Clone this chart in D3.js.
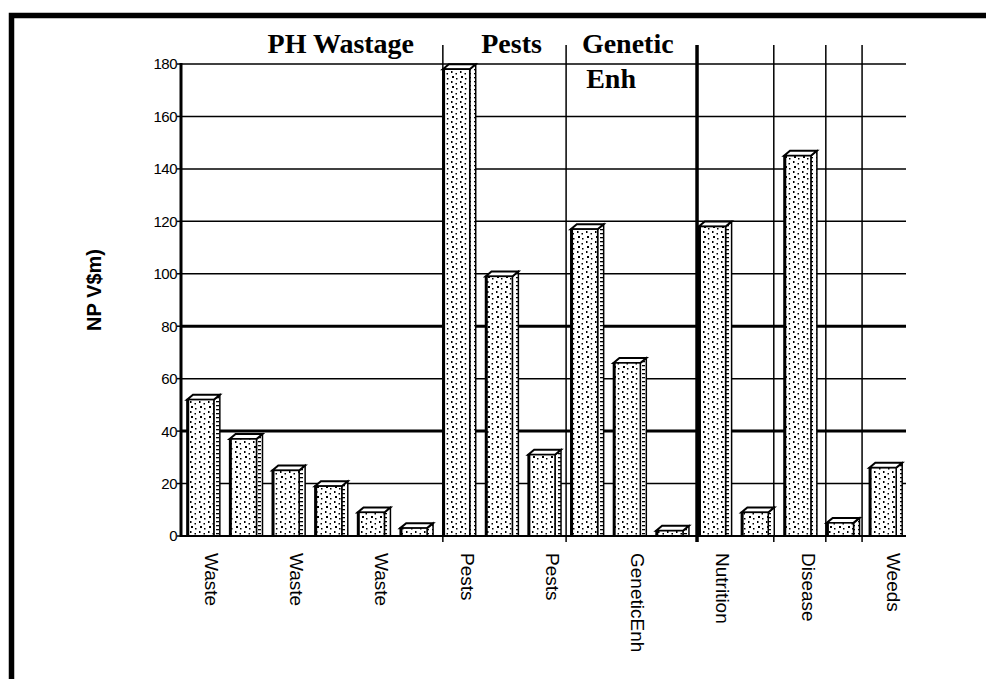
<!DOCTYPE html>
<html>
<head>
<meta charset="utf-8">
<script src="https://cdnjs.cloudflare.com/ajax/libs/d3/7.8.5/d3.min.js"></script>
<style>
  body { margin: 0; background: #fff; }
  svg { display: block; }
</style>
</head>
<body>
<svg width="986" height="679"></svg>
<script>
/// Data ///
var values = [52, 37, 25, 19, 9, 3, 178, 99, 31, 117, 66, 2, 118, 9, 145, 5, 26];
var labelSlots = [0, 2, 4, 6, 8, 10, 12, 14, 16];
var labels = ["Waste", "Waste", "Waste", "Pests", "Pests", "GeneticEnh", "Nutrition", "Disease", "Weeds"];
var yTicks = [0, 20, 40, 60, 80, 100, 120, 140, 160, 180];
var thickTicks = [40, 80];
// group dividers, in bar-slot units
var dividers = [6.14, 9.03, 12.1, 13.9, 15.12, 15.97];
var thickDividers = [12.1];
var groupTitles = ["PH Wastage", "Pests", "Genetic", "Enh"];
var titleSlots = [2.03, 7.04, 9.4, 9.5];
var titleRows = [0, 0, 0, 1];

/// Settings ///
var svg = d3.select("svg"),
    width = +svg.attr("width"),
    height = +svg.attr("height");

var plotLeft = 181, plotRight = 906, plotTop = 64, plotBottom = 536;

var x = d3.scaleBand()
    .domain(d3.range(values.length))
    .range([plotLeft, plotRight])
    .padding(0);

var xs = d3.scaleLinear()
    .domain([0, values.length])
    .range([plotLeft, plotRight]);

var y = d3.scaleLinear()
    .domain([0, 180])
    .range([plotBottom, plotTop]);

var bw = x.bandwidth(),
    faceW = bw * 0.63,
    faceOff = bw * 0.14,
    depthX = 6,
    depthY = 5;

/// Patterns ///
var defs = svg.append("defs");

var dots = defs.append("pattern")
    .attr("id", "dots")
    .attr("patternUnits", "userSpaceOnUse")
    .attr("width", 9)
    .attr("height", 10);
dots.append("rect").attr("width", 9).attr("height", 10).attr("fill", "#fff");
[[1, 1, 1.5, 2], [5.5, 3, 1.5, 1.5], [2, 6, 2, 2], [6, 8, 1.5, 1.5]].forEach(function(d) {
  dots.append("rect")
    .attr("x", d[0]).attr("y", d[1])
    .attr("width", d[2]).attr("height", d[3])
    .attr("fill", "#000");
});

var hatch = defs.append("pattern")
    .attr("id", "hatch")
    .attr("patternUnits", "userSpaceOnUse")
    .attr("width", 6)
    .attr("height", 4);
hatch.append("rect").attr("width", 6).attr("height", 4).attr("fill", "#fff");
hatch.append("rect").attr("x", 0).attr("y", 1).attr("width", 3).attr("height", 1.3).attr("fill", "#000");

/// Frame ///
svg.append("rect")
    .attr("x", 11.5)
    .attr("y", 15.5)
    .attr("width", width + 20)
    .attr("height", height + 20)
    .attr("fill", "none")
    .attr("stroke", "#000")
    .attr("stroke-width", 5.5);

/// Grid ///
var grid = svg.append("g");

grid.selectAll(".hgrid")
  .data(yTicks.slice(1))
  .enter().append("line")
    .attr("class", "hgrid")
    .attr("x1", plotLeft)
    .attr("x2", plotRight)
    .attr("y1", function(d) { return y(d); })
    .attr("y2", function(d) { return y(d); })
    .attr("stroke", "#000")
    .attr("stroke-width", function(d) { return thickTicks.indexOf(d) >= 0 ? 3 : 1.5; });

grid.selectAll(".vgrid")
  .data(dividers)
  .enter().append("line")
    .attr("class", "vgrid")
    .attr("x1", function(d) { return xs(d); })
    .attr("x2", function(d) { return xs(d); })
    .attr("y1", 45)
    .attr("y2", plotBottom + 6)
    .attr("stroke", "#000")
    .attr("stroke-width", function(d) { return thickDividers.indexOf(d) >= 0 ? 3.5 : 1.5; });

/// Bars ///
var bars = svg.append("g").selectAll(".bar")
  .data(values)
  .enter().append("g")
    .attr("class", "bar");

// side face
bars.append("polygon")
    .attr("points", function(d, i) {
      var x0 = x(i) + faceOff + faceW, y0 = y(d);
      return [[x0, y0], [x0 + depthX, y0 - depthY], [x0 + depthX, plotBottom], [x0, plotBottom]].join(" ");
    })
    .attr("fill", "url(#hatch)")
    .attr("stroke", "#000")
    .attr("stroke-width", 1.5);

// top face
bars.append("polygon")
    .attr("points", function(d, i) {
      var x0 = x(i) + faceOff, y0 = y(d);
      return [[x0, y0], [x0 + depthX, y0 - depthY], [x0 + faceW + depthX, y0 - depthY], [x0 + faceW, y0]].join(" ");
    })
    .attr("fill", "#fff")
    .attr("stroke", "#000")
    .attr("stroke-width", 2);

// front face
bars.append("rect")
    .attr("x", function(d, i) { return x(i) + faceOff; })
    .attr("y", function(d) { return y(d); })
    .attr("width", faceW)
    .attr("height", function(d) { return plotBottom - y(d); })
    .attr("fill", "url(#dots)")
    .attr("stroke", "#000")
    .attr("stroke-width", 1.5);

bars.append("line")
    .attr("x1", function(d, i) { return x(i) + faceOff + 1; })
    .attr("x2", function(d, i) { return x(i) + faceOff + 1; })
    .attr("y1", function(d) { return y(d); })
    .attr("y2", plotBottom)
    .attr("stroke", "#000")
    .attr("stroke-width", 2.5);

/// Axes ///
svg.append("line")
    .attr("x1", plotLeft).attr("x2", plotRight)
    .attr("y1", plotBottom).attr("y2", plotBottom)
    .attr("stroke", "#000")
    .attr("stroke-width", 2);

svg.append("line")
    .attr("x1", plotLeft).attr("x2", plotLeft)
    .attr("y1", plotTop - 1).attr("y2", plotBottom + 1)
    .attr("stroke", "#000")
    .attr("stroke-width", 3);

svg.append("g").selectAll("line")
  .data(yTicks)
  .enter().append("line")
    .attr("x1", plotLeft - 4)
    .attr("x2", plotLeft)
    .attr("y1", function(d) { return y(d); })
    .attr("y2", function(d) { return y(d); })
    .attr("stroke", "#000")
    .attr("stroke-width", 1.5);

svg.append("g").selectAll("text")
  .data(yTicks)
  .enter().append("text")
    .attr("x", plotLeft - 4)
    .attr("y", function(d) { return y(d); })
    .attr("dy", "0.36em")
    .attr("text-anchor", "end")
    .attr("font-family", "Liberation Sans, Arial, sans-serif")
    .attr("font-size", 15)
    .attr("letter-spacing", -0.5)
    .text(function(d) { return d; });

svg.append("g").selectAll("text")
  .data(labels)
  .enter().append("text")
    .attr("transform", function(d, i) {
      return "translate(" + (x(labelSlots[i]) + bw / 2 + 9) + "," + 553 + ") rotate(90)";
    })
    .attr("dy", "0.35em")
    .attr("text-anchor", "start")
    .attr("font-family", "Liberation Sans, Arial, sans-serif")
    .attr("font-size", 19)
    .text(function(d) { return d; });

// y title
svg.append("text")
    .attr("transform", "translate(101,290) rotate(-90)")
    .attr("text-anchor", "middle")
    .attr("font-family", "Liberation Sans, Arial, sans-serif")
    .attr("font-weight", "bold")
    .attr("font-size", 20)
    .text("NP V$m)");

/// Group titles ///
svg.append("g").selectAll("text")
  .data(groupTitles)
  .enter().append("text")
    .attr("x", function(d, i) { return xs(titleSlots[i]); })
    .attr("y", function(d, i) { return 53 + titleRows[i] * 35; })
    .attr("font-family", "Liberation Serif, Times New Roman, serif")
    .attr("font-weight", "bold")
    .attr("font-size", 28)
    .text(function(d) { return d; });
</script>
</body>
</html>
